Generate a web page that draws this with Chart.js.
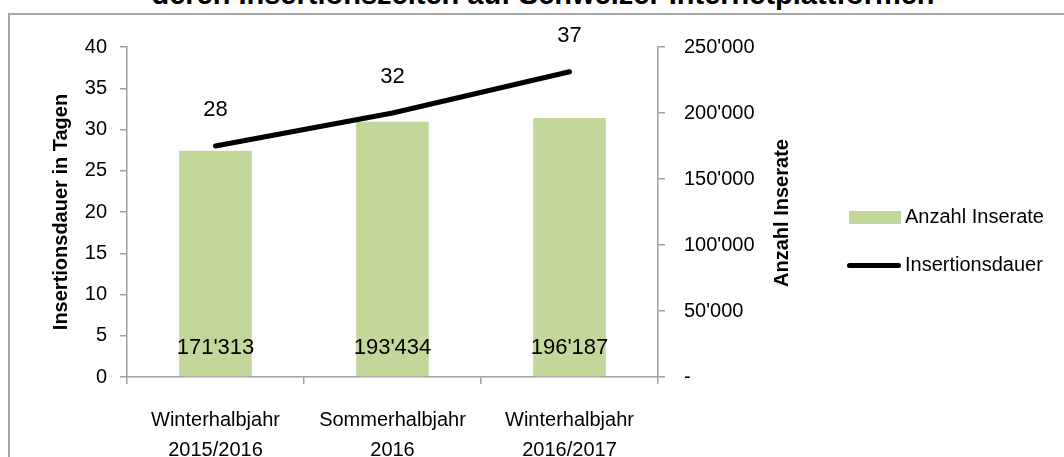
<!DOCTYPE html>
<html lang="de">
<head>
    <meta charset="UTF-8">
    <title>Insertionsdauer</title>
    <style>
        body {
            margin: 0;
            background: #fff;
            font-family: "Liberation Sans", Arial, sans-serif;
        }
        .wrap {
            position: relative;
            width: 1064px;
            height: 457px;
            overflow: hidden;
        }
        .frame {
            position: absolute;
            left: 8px;
            top: 13px;
            width: 1100px;
            height: 500px;
            border-left: 2px solid #a6a6a6;
            border-top: 2px solid #a6a6a6;
        }
        .title {
            position: absolute;
            left: 0;
            width: 1086px;
            top: -20px;
            text-align: center;
            font-weight: bold;
            font-size: 29px;
            line-height: 29px;
            white-space: nowrap;
        }
        canvas {
            position: absolute;
            left: 0;
            top: 0;
        }
        .legend {
            position: absolute;
            left: 847px;
            font-size: 20px;
        }
        .legend div {
            position: absolute;
            white-space: nowrap;
            line-height: 24px;
        }
        .sw-bar {
            display: inline-block;
            width: 52px;
            height: 13px;
            background: #c4d79b;
            vertical-align: middle;
            margin-left: 2px;
            margin-right: 4px;
        }
        .sw-line {
            display: inline-block;
            width: 54px;
            height: 5px;
            border-radius: 3px;
            background: #000;
            vertical-align: middle;
            margin-right: 4px;
        }
    </style>
    <script src="https://cdn.jsdelivr.net/npm/chart.js"></script>
</head>
<body>

<div class="wrap">
    <div class="frame"></div>
    <div class="title">deren Insertionszeiten auf Schweizer Internetplattformen</div>
    <canvas id="chart" width="1064" height="457"></canvas>
    <div class="legend">
        <div style="top:204px"><span class="sw-bar"></span>Anzahl Inserate</div>
        <div style="top:252px"><span class="sw-line"></span>Insertionsdauer</div>
    </div>
</div>

<script>
    const FONT = '"Liberation Sans", Arial, sans-serif';

    const categories = [
        ['Winterhalbjahr', '2015/2016'],
        ['Sommerhalbjahr', '2016'],
        ['Winterhalbjahr', '2016/2017']
    ];
    const anzahlInserate = [171313, 193434, 196187];
    const insertionsdauer = [28, 32, 37];
    const leftTicks = [0, 5, 10, 15, 20, 25, 30, 35, 40];
    const rightTicks = [0, 50000, 100000, 150000, 200000, 250000];

    function swiss(n) {
        if (n === 0) return '-';
        return String(n).replace(/\B(?=(\d{3})+(?!\d))/g, "'");
    }

    const axisGray = '#a0a0a0';

    // value labels + right axis title
    const labelsPlugin = {
        id: 'labels',
        afterDatasetsDraw(chart) {
            const ctx = chart.ctx;
            ctx.save();
            ctx.fillStyle = '#000';
            ctx.textAlign = 'center';
            ctx.textBaseline = 'middle';
            ctx.font = '22px ' + FONT;

            chart.getDatasetMeta(0).data.forEach((bar, i) => {
                ctx.fillText(swiss(anzahlInserate[i]), bar.x, bar.base - 28);
            });
            chart.getDatasetMeta(1).data.forEach((pt, i) => {
                ctx.fillText(insertionsdauer[i], pt.x, pt.y - 36);
            });

            ctx.font = 'bold 20px ' + FONT;
            ctx.translate(782, 213);
            ctx.rotate(-Math.PI / 2);
            ctx.fillText('Anzahl Inserate', 0, 0);
            ctx.restore();
        }
    };

    const ctx = document.getElementById('chart').getContext('2d');
    new Chart(ctx, {
        type: 'bar',
        data: {
            labels: categories,
            datasets: [{
                label: 'Anzahl Inserate',
                data: anzahlInserate,
                backgroundColor: '#c4d79b',
                yAxisID: 'y1',
                categoryPercentage: 1,
                barPercentage: 0.41,
                order: 2
            }, {
                type: 'line',
                label: 'Insertionsdauer',
                data: insertionsdauer,
                borderColor: '#000',
                borderWidth: 5,
                borderCapStyle: 'round',
                pointRadius: 0,
                tension: 0,
                yAxisID: 'y',
                order: 1
            }]
        },
        options: {
            responsive: false,
            animation: false,
            layout: { padding: { top: 47, left: 0, right: 0, bottom: 0 } },
            plugins: {
                legend: { display: false },
                tooltip: { enabled: false }
            },
            scales: {
                x: {
                    offset: true,
                    grid: { offset: true, drawOnChartArea: false, tickLength: 7, color: axisGray, lineWidth: 1.5 },
                    border: { color: axisGray, width: 1.5 },
                    ticks: { color: '#000', font: { family: FONT, size: 20, lineHeight: 1.5 }, padding: 21, maxRotation: 0 },
                    afterFit(scale) { scale.height = 80; }
                },
                y: {
                    position: 'left',
                    min: 0,
                    max: 40,
                    afterBuildTicks(scale) { scale.ticks = leftTicks.map(v => ({ value: v })); },
                    grid: { drawOnChartArea: false, tickLength: 7, color: axisGray, lineWidth: 1.5 },
                    border: { color: axisGray, width: 1.5 },
                    ticks: { color: '#000', font: { family: FONT, size: 20 }, padding: 13 },
                    title: {
                        display: true,
                        text: 'Insertionsdauer in Tagen',
                        color: '#000',
                        font: { family: FONT, size: 20, weight: 'bold', lineHeight: 1.2 },
                        padding: { top: 49, bottom: 0 }
                    },
                    afterFit(scale) { scale.width = 127; }
                },
                y1: {
                    position: 'right',
                    min: 0,
                    max: 250000,
                    afterBuildTicks(scale) { scale.ticks = rightTicks.map(v => ({ value: v })); },
                    grid: { drawOnChartArea: false, tickLength: 7, color: axisGray, lineWidth: 1.5 },
                    border: { color: axisGray, width: 1.5 },
                    ticks: { color: '#000', font: { family: FONT, size: 20 }, padding: 19, callback: v => swiss(v) },
                    afterFit(scale) { scale.width = 1064 - 658; }
                }
            }
        },
        plugins: [labelsPlugin]
    });
</script>

</body>
</html>
